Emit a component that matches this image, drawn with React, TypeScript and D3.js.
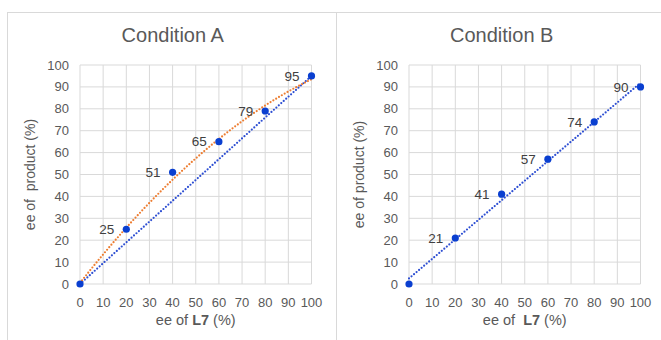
import React from "react";
import * as d3 from "d3";

// ee of L7 (%) — same for both conditions
const eeL7 = [0, 20, 40, 60, 80, 100];
// ee of product (%)
const productA = [0, 25, 51, 65, 79, 95];
const productB = [0, 21, 41, 57, 74, 90];
const ticks = [0, 10, 20, 30, 40, 50, 60, 70, 80, 90, 100];

const W = 661, H = 340;
const FONT = "'Liberation Sans', Arial, sans-serif";
const GRID = "#d9d9d9";
const TXT = "#595959";
const MARK = "#0a3fd0";
const BLUE_LINE = "#2e4fd3";
const ORANGE = "#ed7d31";

// least squares polynomial fit (Excel-style trendline)
function polyFit(xs: number[], ys: number[], order: number) {
  const n = order + 1;
  const A = d3.range(n).map(i => d3.range(n).map(j => d3.sum(xs, x => Math.pow(x, i + j))));
  const b = d3.range(n).map(i => d3.sum(xs, (x, k) => Math.pow(x, i) * ys[k]));
  // gaussian elimination
  for (let c = 0; c < n; c++) {
    for (let r = c + 1; r < n; r++) {
      const f = A[r][c] / A[c][c];
      for (let k = c; k < n; k++) A[r][k] -= f * A[c][k];
      b[r] -= f * b[c];
    }
  }
  const coef = new Array(n).fill(0);
  for (let r = n - 1; r >= 0; r--) {
    let s = b[r];
    for (let k = r + 1; k < n; k++) s -= A[r][k] * coef[k];
    coef[r] = s / A[r][r];
  }
  return (x: number) => coef.reduce((acc, c, i) => acc + c * Math.pow(x, i), 0);
}

type Trend = { color: string; pts: [number, number][] };

function Panel(props: {
  plotX0: number; title: string; ys: number[];
  yLabel: string; xPre: string; trends: Trend[];
}) {
  const { plotX0, title, ys, yLabel, xPre, trends } = props;
  const x = d3.scaleLinear().domain([0, 100]).range([plotX0, plotX0 + 231.5]);
  const y = d3.scaleLinear().domain([0, 100]).range([284, 65]);
  const line = d3.line<[number, number]>().x(d => x(d[0])).y(d => y(d[1]));
  const cx = (x.range()[0] + x.range()[1]) / 2;
  const cy = (y.range()[0] + y.range()[1]) / 2;
  return (
    <g fontFamily={FONT}>
      <text x={cx - 23} y={42} textAnchor="middle" fontSize={20} fill={TXT}>{title}</text>
      {ticks.map(t => (
        <g key={"g" + t}>
          <line x1={x(t)} x2={x(t)} y1={y(0)} y2={y(100)} stroke={GRID} strokeWidth={1} />
          <line x1={x(0)} x2={x(100)} y1={y(t)} y2={y(t)} stroke={GRID} strokeWidth={1} />
          <text x={x(0) - 11} y={y(t)} dy="0.35em" textAnchor="end" fontSize={13} fill={TXT}>{t}</text>
          <text x={x(t)} y={y(0) + 18} dy="0.35em" textAnchor="middle" fontSize={13} fill={TXT}>{t}</text>
        </g>
      ))}
      {trends.map((tr, i) => (
        <path key={"t" + i} d={line(tr.pts) || ""} fill="none" stroke={tr.color}
          strokeWidth={2.2} strokeDasharray="0 3.3" strokeLinecap="round" />
      ))}
      {eeL7.map((v, i) => (
        <circle key={"c" + i} cx={x(v)} cy={y(ys[i])} r={3.6} fill={MARK} />
      ))}
      {eeL7.map((v, i) => i === 0 ? null : (
        <text key={"l" + i} x={x(v) - 12} y={y(ys[i])} dy="0.35em" textAnchor="end"
          fontSize={13.5} fill="#404040">{ys[i]}</text>
      ))}
      <text transform={`translate(${plotX0 - 45},${cy}) rotate(-90)`} textAnchor="middle"
        fontSize={14} fill={TXT} style={{ whiteSpace: "pre" }}>{yLabel}</text>
      <text x={cx} y={325} textAnchor="middle" fontSize={14.5} fill={TXT} style={{ whiteSpace: "pre" }}>
        {xPre}<tspan fontWeight="bold">L7</tspan> (%)
      </text>
    </g>
  );
}

export default function App() {
  const fitA = polyFit(eeL7, productA, 2);
  const fitB = polyFit(eeL7, productB, 1);
  const samples = d3.range(0, 100.01, 2);
  const trendA: Trend[] = [
    { color: BLUE_LINE, pts: [[eeL7[0], productA[0]], [eeL7[eeL7.length - 1], productA[productA.length - 1]]] },
    { color: ORANGE, pts: samples.map(s => [s, fitA(s)] as [number, number]) },
  ];
  const trendB: Trend[] = [
    { color: BLUE_LINE, pts: [[0, fitB(0)], [100, fitB(100)]] },
  ];
  return (
    <svg width={W} height={H} style={{ position: "absolute", left: 0, top: 0, background: "#fff" }}>
      <rect x={7.5} y={12.5} width={329} height={340} fill="#fff" stroke={GRID} />
      <rect x={336.5} y={12.5} width={340} height={340} fill="#fff" stroke={GRID} />
      <Panel plotX0={80} title="Condition A" ys={productA}
        yLabel="ee of  product (%)" xPre="ee of " trends={trendA} />
      <Panel plotX0={409} title="Condition B" ys={productB}
        yLabel="ee of product (%)" xPre="ee of  " trends={trendB} />
    </svg>
  );
}
